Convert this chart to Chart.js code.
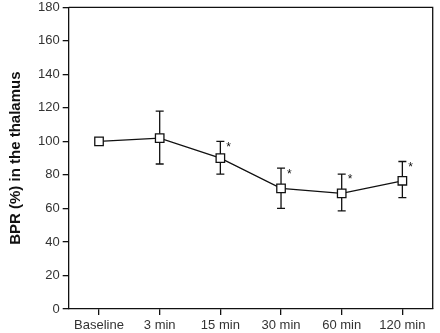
<!DOCTYPE html>
<html>
<head>
<meta charset="utf-8">
<script src="https://cdn.jsdelivr.net/npm/chart.js@4/dist/chart.umd.min.js"></script>
<style>
  html, body { margin: 0; padding: 0; background: #fff; }
  #wrap { width: 440px; height: 333px; }
</style>
</head>
<body>
<div id="wrap"><canvas id="bprChart"></canvas></div>
<script>
const categories = ['Baseline', '3 min', '15 min', '30 min', '60 min', '120 min'];
const bprMean = [100, 102, 90, 72, 69, 76.5];
const bprUpper = [null, 118, 100, 84, 80.5, 88];
const bprLower = [null, 86.5, 80.5, 60, 58.5, 66.5];
const significant = [false, false, true, true, true, true];
const yTicks = [0, 20, 40, 60, 80, 100, 120, 140, 160, 180];

// error bars, asterisks and the open frame on top/right
const errorBars = {
    id: 'errorBars',
    beforeDatasetsDraw(chart) {
        const ctx = chart.ctx;
        const x = chart.scales.x;
        const y = chart.scales.y;
        ctx.save();
        ctx.strokeStyle = '#111';
        ctx.lineWidth = 1.3;
        categories.forEach((c, i) => {
            if (bprUpper[i] == null) return;
            const px = x.getPixelForValue(i);
            const yt = y.getPixelForValue(bprUpper[i]);
            const yb = y.getPixelForValue(bprLower[i]);
            ctx.beginPath();
            ctx.moveTo(px, yt); ctx.lineTo(px, yb);
            ctx.moveTo(px - 4, yt); ctx.lineTo(px + 4, yt);
            ctx.moveTo(px - 4, yb); ctx.lineTo(px + 4, yb);
            ctx.stroke();
        });
        ctx.restore();
    },
    afterDatasetsDraw(chart) {
        const ctx = chart.ctx;
        const x = chart.scales.x;
        const y = chart.scales.y;
        const a = chart.chartArea;
        ctx.save();
        ctx.fillStyle = '#111';
        ctx.font = '12px "Liberation Sans", Arial, sans-serif';
        ctx.textAlign = 'left';
        ctx.textBaseline = 'middle';
        categories.forEach((c, i) => {
            if (!significant[i]) return;
            ctx.fillText('*', x.getPixelForValue(i) + 6, y.getPixelForValue(bprUpper[i]) + 6);
        });
        ctx.strokeStyle = '#111';
        ctx.lineWidth = 1.3;
        ctx.beginPath();
        ctx.moveTo(a.left, a.top); ctx.lineTo(a.right, a.top); ctx.lineTo(a.right, a.bottom);
        ctx.stroke();
        ctx.restore();
    }
};

new Chart(document.getElementById('bprChart'), {
    type: 'line',
    data: {
        labels: categories,
        datasets: [{
            data: bprMean,
            borderColor: '#111',
            borderWidth: 1.3,
            backgroundColor: '#fff',
            pointStyle: 'rect',
            pointRadius: 6,
            pointBorderWidth: 1.3,
            pointBorderColor: '#111',
            pointBackgroundColor: '#fff',
            tension: 0
        }]
    },
    options: {
        responsive: true,
        maintainAspectRatio: false,
        animation: false,
        layout: { padding: { top: 0, right: 0, left: 7, bottom: -3 } },
        plugins: { legend: { display: false }, tooltip: { enabled: false } },
        scales: {
            x: {
                offset: true,
                grid: { display: true, drawOnChartArea: false, drawTicks: true, tickLength: 6, color: '#111', lineWidth: 1.3 },
                border: { display: true, color: '#111', width: 1.3 },
                ticks: { color: '#333', font: { family: '"Liberation Sans", Arial, sans-serif', size: 13, lineHeight: 1 }, padding: 4, maxRotation: 0, autoSkip: false }
            },
            y: {
                min: 0,
                max: 180,
                afterBuildTicks(axis) { axis.ticks = yTicks.map(v => ({ value: v })); },
                grid: { display: true, drawOnChartArea: false, drawTicks: true, tickLength: 6, color: '#111', lineWidth: 1.3 },
                border: { display: true, color: '#111', width: 1.3 },
                ticks: { color: '#333', font: { family: '"Liberation Sans", Arial, sans-serif', size: 13, lineHeight: 0.6 }, padding: 3 },
                title: { display: true, text: 'BPR (%) in the thalamus', color: '#111', font: { family: '"Liberation Sans", Arial, sans-serif', size: 15, weight: 'bold' }, padding: { top: 0, bottom: 10 } }
            }
        }
    },
    plugins: [errorBars]
});
</script>
</body>
</html>
